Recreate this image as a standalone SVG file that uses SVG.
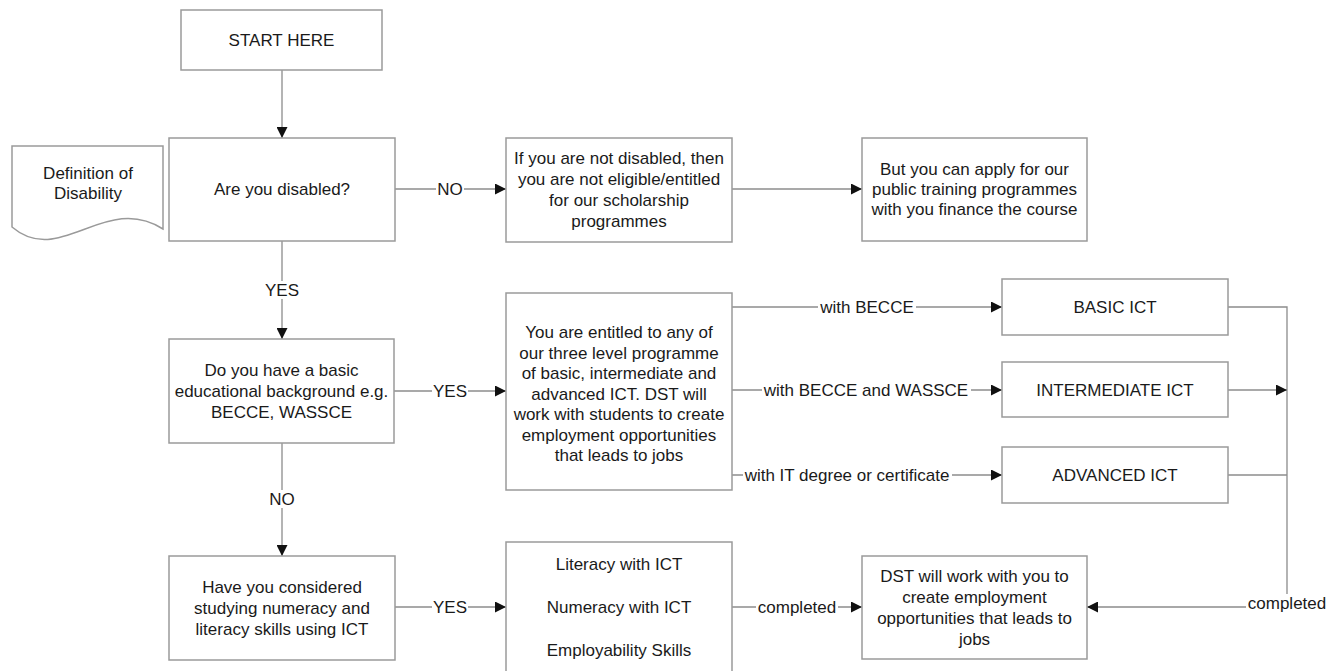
<svg xmlns="http://www.w3.org/2000/svg" width="1338" height="671" viewBox="0 0 1338 671">
<defs>
<marker id="arr" markerUnits="userSpaceOnUse" markerWidth="11" markerHeight="11" refX="11" refY="5.5" orient="auto">
<path d="M0,0 L11,5.5 L0,11 Z" fill="#111"/>
</marker>
<style>
.box{fill:#fff;stroke:#9a9a9a;stroke-width:1.5}
.ln{fill:none;stroke:#8c8c8c;stroke-width:1.3}
.t{font-family:"Liberation Sans",Arial,sans-serif;font-size:17px;fill:#1a1a1a;text-anchor:middle}
.bg{fill:#fff}
</style>
</defs>
<rect width="1338" height="671" fill="#fff"/>

<g id="connectors">
<path class="ln" d="M282,70 V138" marker-end="url(#arr)"/>
<path class="ln" d="M395,189 H506" marker-end="url(#arr)"/>
<path class="ln" d="M732,189 H862" marker-end="url(#arr)"/>
<path class="ln" d="M282,241 V339" marker-end="url(#arr)"/>
<path class="ln" d="M394,391 H506" marker-end="url(#arr)"/>
<path class="ln" d="M282,443 V556" marker-end="url(#arr)"/>
<path class="ln" d="M732,307 H1002" marker-end="url(#arr)"/>
<path class="ln" d="M732,390 H1002" marker-end="url(#arr)"/>
<path class="ln" d="M732,475 H1002" marker-end="url(#arr)"/>
<path class="ln" d="M1228,307 H1287 V607 H1087" marker-end="url(#arr)"/>
<path class="ln" d="M1228,390 H1287" marker-end="url(#arr)"/>
<path class="ln" d="M1228,475 H1287"/>
<path class="ln" d="M395,607 H506" marker-end="url(#arr)"/>
<path class="ln" d="M732,607 H862" marker-end="url(#arr)"/>

<rect class="bg" x="436" y="180" width="28" height="18"/>
<text class="t" x="450" y="195">NO</text>
<rect class="bg" x="264" y="281" width="36" height="18"/>
<text class="t" x="282" y="296">YES</text>
<rect class="bg" x="432" y="382" width="36" height="18"/>
<text class="t" x="450" y="397">YES</text>
<rect class="bg" x="268" y="490" width="28" height="18"/>
<text class="t" x="282" y="505">NO</text>
<rect class="bg" x="818" y="298" width="98" height="18"/>
<text class="t" x="867" y="313">with BECCE</text>
<rect class="bg" x="762" y="381" width="209" height="18"/>
<text class="t" x="866" y="396">with BECCE and WASSCE</text>
<rect class="bg" x="743" y="466" width="209" height="18"/>
<text class="t" x="847" y="481">with IT degree or certificate</text>
<rect class="bg" x="432" y="598" width="36" height="18"/>
<text class="t" x="450" y="613">YES</text>
<rect class="bg" x="756" y="598" width="82" height="18"/>
<text class="t" x="797" y="613">completed</text>
<rect class="bg" x="1246" y="594" width="82" height="20"/>
<text class="t" x="1287" y="609">completed</text>
</g>

<g id="start">
<rect class="box" x="181" y="10" width="201" height="60"/>
<text class="t" x="281.5" y="46">START HERE</text>
</g>

<g id="definition">
<path class="box" d="M12,146 H163 V229 C105,192 60,268 12,227 Z"/>
<text class="t" x="88" y="179">Definition of</text>
<text class="t" x="88" y="199">Disability</text>
</g>

<g id="disabled">
<rect class="box" x="169" y="138" width="226" height="103"/>
<text class="t" x="282" y="195">Are you disabled?</text>
</g>

<g id="not-eligible">
<rect class="box" x="506" y="138" width="226" height="104"/>
<text class="t" x="619" y="164">If you are not disabled, then</text>
<text class="t" x="619" y="185">you are not eligible/entitled</text>
<text class="t" x="619" y="206">for our scholarship</text>
<text class="t" x="619" y="227">programmes</text>
</g>

<g id="public-training">
<rect class="box" x="862" y="138" width="225" height="103"/>
<text class="t" x="974.5" y="175">But you can apply for our</text>
<text class="t" x="974.5" y="195">public training programmes</text>
<text class="t" x="974.5" y="215">with you finance the course</text>
</g>

<g id="education">
<rect class="box" x="169" y="339" width="225" height="104"/>
<text class="t" x="281.5" y="376">Do you have a basic</text>
<text class="t" x="281.5" y="397">educational background e.g.</text>
<text class="t" x="281.5" y="418">BECCE, WASSCE</text>
</g>

<g id="entitled">
<rect class="box" x="506" y="293" width="226" height="197"/>
<text class="t" x="619" y="338">You are entitled to any of</text>
<text class="t" x="619" y="359">our three level programme</text>
<text class="t" x="619" y="379">of basic, intermediate and</text>
<text class="t" x="619" y="400">advanced ICT. DST will</text>
<text class="t" x="619" y="420">work with students to create</text>
<text class="t" x="619" y="441">employment opportunities</text>
<text class="t" x="619" y="461">that leads to jobs</text>
</g>

<g id="basic-ict">
<rect class="box" x="1002" y="279" width="226" height="56"/>
<text class="t" x="1115" y="313">BASIC ICT</text>
</g>

<g id="intermediate-ict">
<rect class="box" x="1002" y="362" width="226" height="55"/>
<text class="t" x="1115" y="396">INTERMEDIATE ICT</text>
</g>

<g id="advanced-ict">
<rect class="box" x="1002" y="447" width="226" height="56"/>
<text class="t" x="1115" y="481">ADVANCED ICT</text>
</g>

<g id="numeracy-question">
<rect class="box" x="169" y="556" width="226" height="104"/>
<text class="t" x="282" y="593">Have you considered</text>
<text class="t" x="282" y="614">studying numeracy and</text>
<text class="t" x="282" y="635">literacy skills using ICT</text>
</g>

<g id="skills">
<rect class="box" x="506" y="542" width="226" height="140"/>
<text class="t" x="619" y="570">Literacy with ICT</text>
<text class="t" x="619" y="613">Numeracy with ICT</text>
<text class="t" x="619" y="656">Employability Skills</text>
</g>

<g id="employment">
<rect class="box" x="862" y="556" width="225" height="103"/>
<text class="t" x="974.5" y="582">DST will work with you to</text>
<text class="t" x="974.5" y="603">create employment</text>
<text class="t" x="974.5" y="624">opportunities that leads to</text>
<text class="t" x="974.5" y="645">jobs</text>
</g>
</svg>
